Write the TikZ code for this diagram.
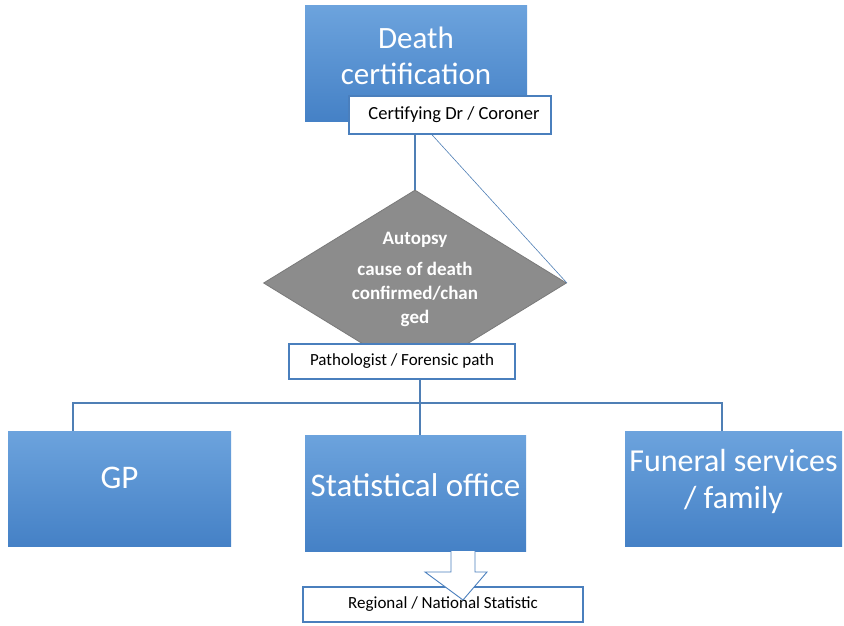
\documentclass[tikz,border=0pt]{standalone}
\usepackage{fontspec}
\setmainfont{Carlito}
\usetikzlibrary{shapes.geometric}
\definecolor{bluetop}{HTML}{6CA3DD}
\definecolor{bluebot}{HTML}{4581C6}
\definecolor{edgeblue}{HTML}{4A7FBD}
\definecolor{lineblue}{HTML}{4F7FB5}
\definecolor{diagrey}{HTML}{8C8C8C}
\definecolor{diaedge}{HTML}{7A7A7A}
\tikzset{
  bluebox/.style={rectangle, top color=bluetop, bottom color=bluebot, draw=none,
    text=white, align=center, inner sep=0pt},
  labelbox/.style={rectangle, fill=white, draw=edgeblue, line width=1.6pt,
    inner sep=0pt, font=\fontsize{17}{20}\selectfont},
  boxtext/.style={text=white, align=center, inner sep=0pt},
  conn/.style={draw=lineblue, line width=1.1pt},
  thinconn/.style={draw=lineblue, line width=0.6pt},
}
\begin{document}
\begin{tikzpicture}[x=1pt,y=-1pt]
\useasboundingbox (0,0) rectangle (844,626);
% top box
\node[bluebox, minimum width=222pt, minimum height=115pt] (death) at (416,63.5) {};
\node[boxtext, font=\fontsize{31}{36}\selectfont] (deathtxt) at (416,56) {Death\\certification};
\node[labelbox, minimum width=202pt, minimum height=38pt, font=\fontsize{18.5}{20}\selectfont] (cert) at (450,115) {\hspace*{8pt}Certifying Dr / Coroner};
% diamond
\node[diamond, fill=diagrey, draw=diaedge, line width=0.8pt, minimum width=303pt, minimum height=186pt,
  inner sep=0pt] (diam) at (415,283) {};
\node[boxtext, font=\bfseries\fontsize{19}{24}\selectfont] (diamtxt) at (415,279)
  {Autopsy\\[7pt]cause of death\\confirmed/chan\\ged};
\draw[conn] (cert.south -| diam.north) -- (diam.north);
\draw[thinconn] ([xshift=-18pt]cert.south) -- (diam.east);
\node[labelbox, minimum width=226pt, minimum height=35pt] (path) at (402,361.5) {Pathologist / Forensic path};
% bottom boxes
\node[bluebox, minimum width=223pt, minimum height=115pt] (gp) at (119.5,488.5) {};
\node[boxtext, font=\fontsize{33}{36}\selectfont] (gptxt) at (119.5,478) {GP};
\node[bluebox, minimum width=221pt, minimum height=116pt] (stat) at (415.5,493) {};
\node[boxtext, font=\fontsize{33}{36}\selectfont] (stattxt) at (415.5,485) {Statistical office};
\node[bluebox, minimum width=217pt, minimum height=115pt] (fun) at (733.5,488.5) {};
\node[boxtext, font=\fontsize{32}{37}\selectfont] (funtxt) at (733.5,481) {Funeral services\\/ family};
% tree connectors
\coordinate (bar) at (420,403);
\draw[conn] (path.south -| bar) -- (bar);
\draw[conn] (gp.north -| 73,0) |- (bar) -| (fun.north -| 722,0);
\draw[conn] (bar) -- (stat.north -| bar);
% regional
\node[labelbox, minimum width=280pt, minimum height=35pt] (reg) at (443,604.5) {Regional / National Statistic};
% block arrow
\coordinate (a1) at (451,551);
\coordinate (a2) at (475,551);
\draw[draw=edgeblue, fill=white, line width=0.9pt, line join=miter]
  (a1) -- (451,572) -- (425,572) -- (463,600) -- (487,572) -- (475,572) -- (a2);
\end{tikzpicture}
\end{document}
